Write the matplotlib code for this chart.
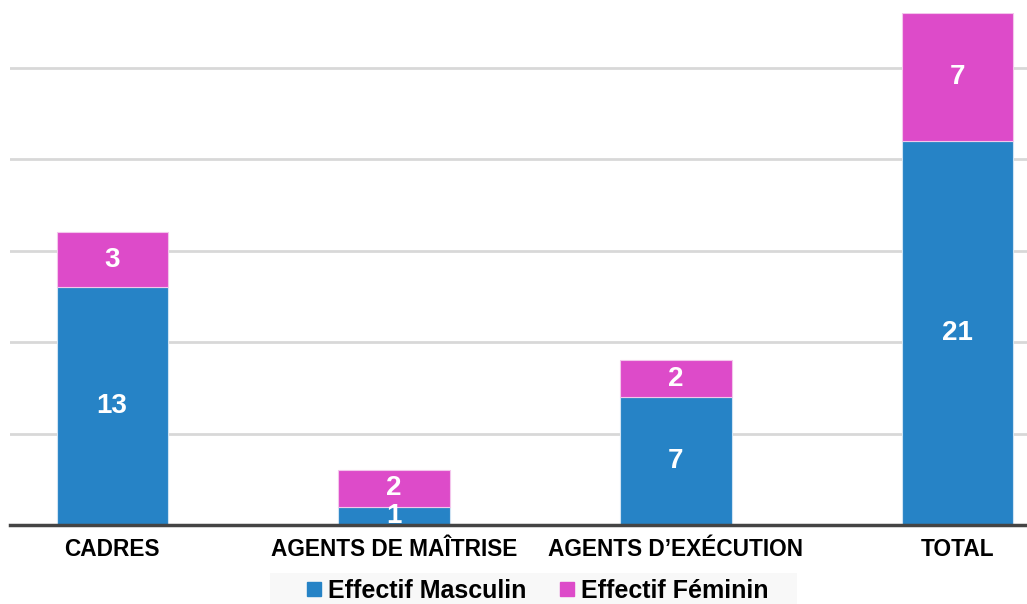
import numpy as np
import matplotlib.pyplot as plt
from matplotlib.patches import Rectangle
from matplotlib.lines import Line2D

# data
categories = ['CADRES', 'AGENTS DE MAÎTRISE', 'AGENTS D\u2019EXÉCUTION', 'TOTAL']
masculin = [13, 1, 7, 21]
feminin = [3, 2, 2, 7]
series_names = ['Effectif Masculin', 'Effectif Féminin']

blue = '#2683c6'
pink = '#dd4bc9'

plt.rcParams['font.family'] = ['Liberation Sans', 'DejaVu Sans']

fig = plt.figure(figsize=(10.27, 6.04), dpi=100)
ax = fig.add_axes([10 / 1027, 79 / 604, 1 - 10 / 1027, (525 - 13) / 604])

x = np.arange(len(categories))
w = 0.394
b1 = ax.bar(x, masculin, w, color=blue, edgecolor='#cfe3f3', linewidth=0.8, zorder=3)
b2 = ax.bar(x, feminin, w, bottom=masculin, color=pink, edgecolor='#f3c6ec',
            linewidth=0.8, zorder=3)

# value labels in the middle of each segment
for i in range(len(categories)):
    ax.text(x[i], masculin[i] / 2, str(masculin[i]), ha='center', va='center',
            color='white', fontsize=20, fontweight='bold', zorder=4)
    ax.text(x[i], masculin[i] + feminin[i] / 2, str(feminin[i]), ha='center',
            va='center', color='white', fontsize=20, fontweight='bold', zorder=4)

ax.set_xlim(-0.362, 3.245)
ax.set_ylim(0, 28)
ax.set_yticks([5, 10, 15, 20, 25])
ax.yaxis.grid(True, color='#d8d8d8', linewidth=2)
ax.set_axisbelow(True)
ax.tick_params(axis='y', left=False, labelleft=False)
ax.tick_params(axis='x', length=0, pad=9)
ax.set_xticks(x)
ax.set_xticklabels(categories, fontsize=16.3, fontweight='bold')
for s in ['top', 'right', 'left']:
    ax.spines[s].set_visible(False)
ax.spines['bottom'].set_color('#444444')
ax.spines['bottom'].set_linewidth(2.5)
ax.spines['bottom'].set_zorder(5)

# legend with light grey backing
fig.patches.append(Rectangle((270 / 1027, 0), 527 / 1027, 31 / 604,
                             transform=fig.transFigure, facecolor='#f8f8f8',
                             edgecolor='none', zorder=0))
handles = [Line2D([], [], marker='s', linestyle='', color=c, markersize=10)
           for c in (blue, pink)]
fig.legend(handles, series_names, loc='center', bbox_to_anchor=(537 / 1027, 13 / 604),
           ncol=2, frameon=False, prop={'size': 18, 'weight': 'bold'},
           handletextpad=0.2, columnspacing=1.3, handlelength=0.7)

fig.savefig('out.png', dpi=100)
